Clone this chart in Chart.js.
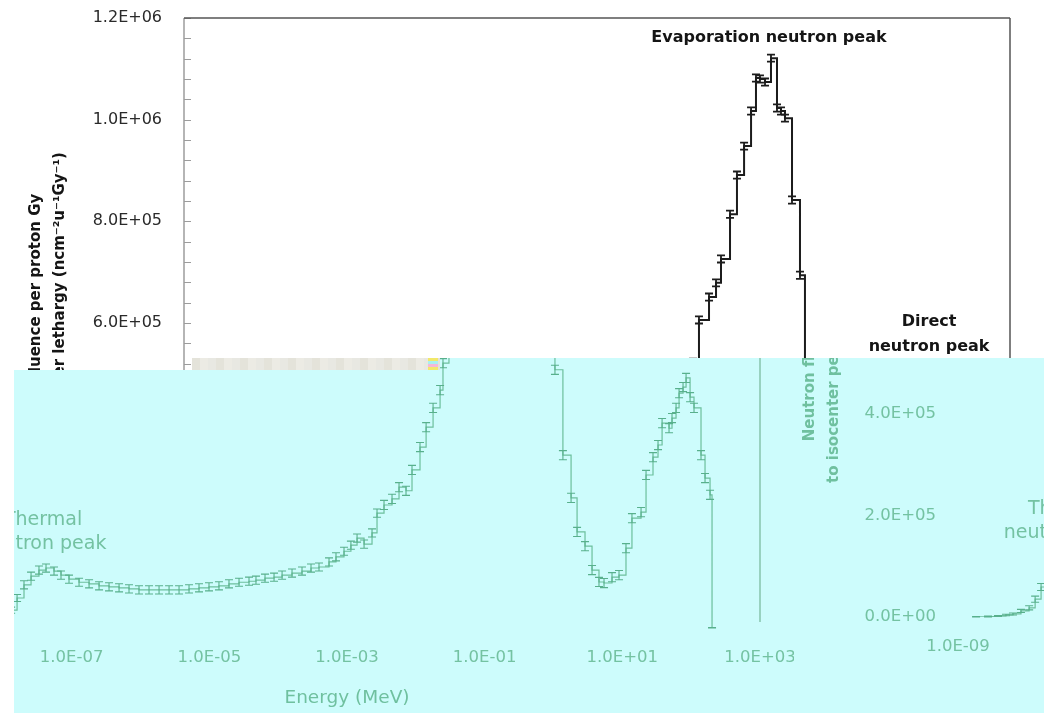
<!DOCTYPE html>
<html lang="en">
<head>
<meta charset="UTF-8">
<title>Neutron fluence spectrum</title>
<script src="https://cdn.jsdelivr.net/npm/chart.js"></script>
<style>
  body { margin: 0; background: #fff; overflow: hidden; }
  #stage { position: relative; width: 1044px; height: 713px; overflow: hidden; background: #fff; }
  .layer { position: absolute; left: 0; top: 0; width: 1044px; height: 713px; overflow: hidden; }
  .layer canvas { position: absolute; }
  #mainLayer { background: #cdfcfc; clip-path: polygon(14px 370px, 440px 370px, 440px 358px, 798px 358px, 798px 713px, 14px 713px); }
  #wrapLayer { background: #cdfcfc; clip-path: polygon(798px 358px, 1044px 358px, 1044px 713px, 798px 713px); }
  #strip { position: absolute; left: 192px; top: 358px; width: 248px; height: 12px;
           background: repeating-linear-gradient(90deg, #e4e3da 0 8px, #ecebe4 8px 16px, #e8e8e2 16px 24px); }
  #strip span { position: absolute; right: 2px; top: 0; width: 10px; height: 12px;
           background: repeating-linear-gradient(0deg, #f2e86a 0 3px, #f4b8d8 3px 6px, #a8f0f0 6px 9px); }
</style>
</head>
<body>
<div id="stage">
  <canvas id="topChart" width="1044" height="713" style="position:absolute;left:0;top:0"></canvas>
  <div id="strip"><span></span></div>
  <div class="layer" id="mainLayer">
    <canvas id="mainChart" width="1044" height="713" style="left:-250px;top:0"></canvas>
  </div>
  <div class="layer" id="wrapLayer">
    <canvas id="wrapChart" width="1044" height="713" style="left:774px;top:-11px"></canvas>
  </div>
</div>
<script>
// energy bins (MeV)
const energyMeV = [
  1.83e-9, 2.73e-9, 3.81e-9, 4.98e-9, 6.29e-9, 8.22e-9, 1.08e-8, 1.32e-8, 1.61e-8, 2.03e-8,
  2.57e-8, 3.35e-8, 4.24e-8, 5.54e-8, 7.00e-8, 9.15e-8, 1.28e-7, 1.79e-7, 2.50e-7, 3.49e-7,
  4.88e-7, 6.81e-7, 9.51e-7, 1.33e-6, 1.86e-6, 2.60e-6, 3.63e-6, 5.07e-6, 7.08e-6, 9.89e-6,
  1.38e-5, 1.93e-5, 2.70e-5, 3.77e-5, 4.76e-5, 6.44e-5, 8.71e-5, 1.14e-4, 1.59e-4, 2.22e-4,
  3.00e-4, 3.92e-4, 5.48e-4, 6.92e-4, 9.05e-4, 1.14e-3, 1.40e-3, 1.77e-3, 2.31e-3, 2.73e-3,
  3.45e-3, 4.51e-3, 5.70e-3, 7.20e-3, 8.80e-3, 1.15e-2, 1.41e-2, 1.78e-2, 2.25e-2, 2.48e-2,
  3.03e-2, 4.24e-2, 5.36e-2, 6.33e-2, 8.56e-2, 0.108, 0.137, 0.173, 0.204, 0.233,
  0.276, 0.337, 0.412, 0.471, 0.538, 0.681, 0.889, 1.05, 1.37, 1.80,
  2.20, 2.87, 3.63, 4.58, 5.42, 7.08, 8.95, 11.3, 13.8, 18.7,
  22.1, 27.9, 33.0, 37.8, 47.7, 52.7, 60.3, 66.7, 76.2, 84.3,
  96.4, 110, 139, 159, 188, 201
];
// fluence per proton Gy per lethargy
const fluence = [
  500, 1000, 2000, 4000, 6000, 1.2e4, 1.8e4, 3.5e4, 5.9e4, 8.5e4,
  1.02e5, 1.14e5, 1.18e5, 1.12e5, 1.04e5, 9.6e4, 9.0e4, 8.7e4, 8.3e4, 8.1e4,
  7.9e4, 7.7e4, 7.5e4, 7.5e4, 7.5e4, 7.5e4, 7.5e4, 7.7e4, 7.9e4, 8.1e4,
  8.3e4, 8.7e4, 9.0e4, 9.2e4, 9.4e4, 9.8e4, 1.00e5, 1.04e5, 1.08e5, 1.12e5,
  1.18e5, 1.20e5, 1.30e5, 1.40e5, 1.51e5, 1.63e5, 1.77e5, 1.65e5, 1.87e5, 2.26e5,
  2.42e5, 2.54e5, 2.77e5, 2.70e5, 3.11e5, 3.56e5, 3.95e5, 4.33e5, 4.68e5, 5.21e5,
  6.06e5, 6.51e5, 6.79e5, 7.26e5, 8.14e5, 8.91e5, 9.48e5, 1.017e6, 1.082e6, 1.080e6,
  1.074e6, 1.121e6, 1.023e6, 1.017e6, 1.003e6, 8.42e5, 6.94e5, 5.08e5, 3.40e5, 2.56e5,
  1.89e5, 1.61e5, 1.14e5, 9.05e4, 8.85e4, 1.00e5, 1.04e5, 1.57e5, 2.16e5, 2.28e5,
  3.01e5, 3.36e5, 3.60e5, 4.03e5, 3.93e5, 4.13e5, 4.33e5, 4.62e5, 4.74e5, 4.92e5,
  4.54e5, 4.33e5, 3.40e5, 2.95e5, 2.62e5, 0
];
const fluenceErr = [
  500, 800, 1000, 1500, 2000, 3000, 4000, 6000, 7000, 8000,
  8000, 8000, 8000, 8000, 8000, 8000, 8000, 8000, 8000, 8000,
  8000, 8000, 8000, 8000, 8000, 8000, 8000, 8000, 8000, 8000,
  8000, 8000, 8000, 8000, 8000, 8000, 8000, 8000, 8000, 8000,
  8000, 8000, 8000, 8000, 8000, 8000, 8000, 8000, 8000, 8000,
  9000, 9000, 9000, 9000, 9000, 9000, 9000, 9000, 9000, 9000,
  7000, 7000, 7000, 7000, 7000, 7000, 7000, 7000, 7000, 7000,
  7000, 7000, 7000, 7000, 7000, 7000, 7000, 9000, 9000, 9000,
  9000, 9000, 9000, 9000, 9000, 9000, 9000, 9000, 9000, 9000,
  9000, 9000, 9000, 9000, 9000, 9000, 9000, 9000, 9000, 9000,
  9000, 9000, 9000, 9000, 9000, 1000
];

const xTickValues = [1e-9, 1e-7, 1e-5, 1e-3, 1e-1, 1e1, 1e3];
const xTickLabels = ['1.0E-09', '1.0E-07', '1.0E-05', '1.0E-03', '1.0E-01', '1.0E+01', '1.0E+03'];
const yTickValues = [0, 2e5, 4e5, 6e5, 8e5, 1e6, 1.2e6];
const yTickLabels = ['0.0E+00', '2.0E+05', '4.0E+05', '6.0E+05', '8.0E+05', '1.0E+06', '1.2E+06'];

const noteText = [['Evaporation neutron peak'], ['Direct', 'neutron peak'], ['Thermal', 'neutron peak']];
const noteEnergy = [0.315, 66.7, 3.84e-8];
const noteFluence = [1.161e6, 6.02e5, 2.12e5];

const xTitle = 'Energy (MeV)';
const yTitle = ['Neutron fluence per proton Gy', 'to isocenter per lethargy (ncm\u207B\u00B2u\u207B\u00B9Gy\u207B\u00B9)'];

const topTheme = {
  line: '#1c1c1c', lineWidth: 2, err: '#1c1c1c', errWidth: 1.8, cap: 4,
  tick: '#2a2a2a', tickFont: { family: 'DejaVu Sans', size: 16 },
  title: '#151515', yTitleFont: { family: 'DejaVu Sans', size: 15, weight: 'bold', lineHeight: 1.6 },
  xTitleFont: { family: 'DejaVu Sans', size: 18, weight: 'bold' },
  note: '#151515', noteFont: 'bold 16px "DejaVu Sans"', noteGap: 25,
  axis: '#9c9c9c', frame: '#555555', minorTicks: true, topBorder: true
};
const bottomTheme = {
  line: '#6cbf9c', lineWidth: 1.2, err: '#58b08c', errWidth: 1.1, cap: 4,
  tick: '#74c2a2', tickFont: { family: 'DejaVu Sans', size: 16.5 },
  title: '#6fc09f', yTitleFont: { family: 'DejaVu Sans', size: 15, weight: 'bold', lineHeight: 1.6 },
  xTitleFont: { family: 'DejaVu Sans', size: 18.5 },
  note: '#74c2a2', noteFont: '19px "DejaVu Sans"', noteGap: 24,
  axis: null, frame: '#86c4ad', minorTicks: false, topBorder: false
};

function makeDecor(theme) {
  return {
    id: 'decor',
    afterDatasetsDraw(chart) {
      const { ctx, chartArea: a, scales: { x, y } } = chart;
      ctx.save();
      ctx.beginPath();
      ctx.rect(a.left, a.top - 4, a.right - a.left, a.bottom - a.top + 8);
      ctx.clip();
      ctx.strokeStyle = theme.err;
      ctx.lineWidth = theme.errWidth;
      energyMeV.forEach((e, i) => {
        const px = x.getPixelForValue(e);
        const lo = y.getPixelForValue(Math.max(0, fluence[i] - fluenceErr[i]));
        const hi = y.getPixelForValue(fluence[i] + fluenceErr[i]);
        ctx.beginPath();
        ctx.moveTo(px, lo); ctx.lineTo(px, hi);
        ctx.moveTo(px - theme.cap, lo); ctx.lineTo(px + theme.cap, lo);
        ctx.moveTo(px - theme.cap, hi); ctx.lineTo(px + theme.cap, hi);
        ctx.stroke();
      });
      ctx.restore();

      // frame
      ctx.save();
      ctx.lineWidth = 1.5;
      if (theme.axis) {
        ctx.strokeStyle = theme.axis;
        ctx.beginPath();
        ctx.moveTo(a.left, a.top); ctx.lineTo(a.left, a.bottom);
        ctx.stroke();
      }
      if (theme.minorTicks) {
        ctx.strokeStyle = theme.axis;
        ctx.lineWidth = 1;
        const step = (yTickValues[1] - yTickValues[0]) / 5;
        for (let v = 0; v <= y.max + 1; v += step) {
          const py = Math.round(y.getPixelForValue(v)) + 0.5;
          ctx.beginPath();
          ctx.moveTo(a.left, py); ctx.lineTo(a.left + 7, py);
          ctx.stroke();
        }
      }
      ctx.strokeStyle = theme.frame;
      ctx.lineWidth = 1.5;
      ctx.beginPath();
      if (theme.topBorder) {
        ctx.moveTo(a.left, a.top); ctx.lineTo(a.right, a.top);
      }
      ctx.moveTo(a.right, a.top); ctx.lineTo(a.right, a.bottom - 6);
      ctx.stroke();
      ctx.restore();

      // annotations
      ctx.save();
      ctx.fillStyle = theme.note;
      ctx.font = theme.noteFont;
      ctx.textAlign = 'center';
      ctx.textBaseline = 'middle';
      noteText.forEach((lines, i) => {
        const px = x.getPixelForValue(noteEnergy[i]);
        const py = y.getPixelForValue(noteFluence[i]);
        lines.forEach((t, k) => ctx.fillText(t, px, py + k * theme.noteGap));
      });
      ctx.restore();
    }
  };
}

function buildChart(id, theme) {
  const points = energyMeV.map((e, i) => ({ x: e, y: fluence[i] }));
  return new Chart(document.getElementById(id), {
    type: 'line',
    data: {
      datasets: [{
        data: points,
        borderColor: theme.line,
        borderWidth: theme.lineWidth,
        stepped: 'before',
        pointRadius: 0,
        fill: false
      }]
    },
    options: {
      responsive: false,
      animation: false,
      devicePixelRatio: 1,
      layout: { padding: { left: 0, right: 34, top: 18, bottom: 0 } },
      plugins: { legend: { display: false }, tooltip: { enabled: false } },
      scales: {
        x: {
          type: 'logarithmic',
          min: 1e-9,
          max: 1e3,
          afterFit(s) { s.height = 85; s.paddingLeft = 0; s.paddingRight = 0; },
          afterBuildTicks(s) { s.ticks = xTickValues.map(v => ({ value: v })); },
          grid: { display: false, drawTicks: false },
          border: { display: false },
          ticks: {
            autoSkip: false, maxRotation: 0, minRotation: 0, padding: 20,
            color: theme.tick, font: theme.tickFont,
            callback(v) {
              const i = xTickValues.findIndex(t => Math.abs(Math.log10(t) - Math.log10(v)) < 1e-6);
              return i >= 0 ? xTickLabels[i] : '';
            }
          },
          title: { display: true, text: xTitle, color: theme.title, font: theme.xTitleFont, padding: { top: 0, bottom: 4 } }
        },
        y: {
          min: 0,
          max: 1.2e6,
          afterFit(s) { s.width = 184; s.paddingTop = 0; s.paddingBottom = 0; },
          afterBuildTicks(s) { s.ticks = yTickValues.map(v => ({ value: v })); },
          grid: { display: false, drawTicks: false },
          border: { display: false },
          ticks: {
            padding: 22, color: theme.tick, font: theme.tickFont,
            callback(v) {
              const i = yTickValues.indexOf(v);
              return i >= 0 ? yTickLabels[i] : '';
            }
          },
          title: { display: true, text: yTitle, color: theme.title, font: theme.yTitleFont, padding: { top: 24, bottom: 0 } }
        }
      }
    },
    plugins: [makeDecor(theme)]
  });
}

buildChart('topChart', topTheme);
buildChart('mainChart', bottomTheme);
buildChart('wrapChart', bottomTheme);
</script>
</body>
</html>
